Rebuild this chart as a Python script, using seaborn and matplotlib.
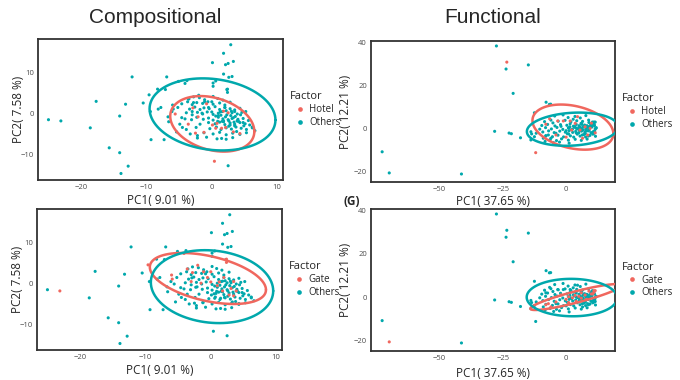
"""
PCA score plots (compositional / functional) with 95% t-ellipses per factor
"""
import matplotlib
matplotlib.use('Agg')
import matplotlib.pyplot as plt
import seaborn as sns
import numpy as np
import pandas as pd

# ================================================================================
# DATA
# ================================================================================

# --- Compositional PCA ---
# samples that are neither hotel nor gate (outlying ones)
comp_rest_pc1 = [-25.0, -17.7, -18.6, -12.2, -13.2, -14.1, -15.7, -14.1, -12.8, -13.9,
                 -8.3, -10.5, -9.4, -8.2, -9.3, -7.3, -7.1, -6.9, -5.1, -3.8,
                 0.1, 1.8, 2.9, 2.1, 3.3, 2.5, 1.8, 3.1, 2.6, 0.6,
                 0.2, 0.2, 2.3, 2.5, 6.6, 6.2, 5.2, -2.2, 0.8, -7.8]
comp_rest_pc2 = [-1.5, 3.0, -3.5, 9.0, 2.3, -0.6, -8.4, -9.6, -12.9, -14.7,
                 6.0, 2.6, 0.5, 1.1, -6.4, -6.4, 5.9, 9.0, 7.9, 8.1,
                 12.5, 14.8, 16.9, 12.0, 12.8, 12.3, 9.7, 9.1, 8.9, 8.0,
                 7.5, 6.7, 5.9, -12.8, -4.2, -3.3, 0.5, -5.4, -6.2, 1.5]
# samples that are neither hotel nor gate (dense cloud)
comp_core_pc1 = [-3.5, -2.8, -1.9, -1.1, 0.2, 0.9, 1.7,
                 -4.6, -3.7, -3.0, -2.3, -1.4, -0.6, 0.2, 1.2, 2.0, 2.8,
                 -5.2, -3.4, -2.6, -1.8, -1.2, -0.4, 0.5, 1.2, 2.0, 2.8, 3.5, 4.3,
                 -6.7, -6.1, -3.9, -3.0, -2.2, -1.4, -0.7, 0.2, 1.0, 1.6, 2.3, 3.1, 3.9, 4.6,
                 -4.1, -4.6, -3.1, -2.3, -1.3, -0.5, 0.2, 1.0, 1.7, 2.5, 3.3, 4.0, 4.8, 5.6,
                 -4.5, -1.8, -0.5, 0.5, 1.2, 2.0, 2.8, 3.5, 4.3, 5.1, 5.8, 1.6, 3.9,
                 -3.9, -2.4, -0.3, 0.7, 1.4, 2.2, 3.0, 3.7, 4.5, 5.3, 6.2, 2.6, 4.9,
                 -1.2, 0.2, 1.2, 2.2, 3.2, 4.3, 5.3, 3.8,
                 -2.2, -0.8, 2.2, 3.2, 1.5,
                 0.6, 1.4, 2.1, 2.9, 3.6, 4.4, 0.9, 1.8, 2.6, 3.4, 4.1, 4.8, 2.2, 3.0,
                 -6.6, -5.4, -4.9, -3.3]
comp_core_pc2 = [3.6, 4.1, 3.9, 3.4, 4.2, 3.7, 3.3,
                 2.4, 2.9, 2.2, 2.7, 2.5, 2.9, 2.3, 2.6, 2.1, 2.8,
                 1.5, 1.1, 1.6, 1.0, 1.4, 1.2, 1.7, 1.0, 1.5, 1.2, 0.9, 1.3,
                 -0.8, 0.5, 0.2, -0.3, 0.3, -0.1, 0.4, -0.2, 0.1, 0.5, -0.3, 0.2, -0.1, 0.3,
                 -1.3, -1.0, -1.5, -0.9, -1.4, -1.1, -1.6, -0.9, -1.3, -1.5, -1.0, -1.4, -1.2, -1.7,
                 -3.4, -2.6, -2.2, -2.5, -2.1, -2.7, -2.3, -2.6, -2.2, -2.5, -2.8, -1.9, -1.8,
                 -3.9, -3.4, -3.7, -3.3, -3.9, -3.5, -3.8, -3.3, -3.6, -3.9, -3.5, -3.1, -3.0,
                 -4.7, -5.0, -4.6, -5.2, -4.8, -5.1, -4.7, -4.4,
                 -6.0, -5.8, -6.3, -5.9, -6.1,
                 -0.6, -0.4, -0.8, -0.5, -0.7, -0.3, -1.9, -2.0, -1.8, -2.1, -1.9, -2.2, 0.7, 0.6,
                 -2.0, -4.5, -2.6, -5.0]
comp_hotel_pc1 = [-5.6, -2.1, -2.9, 0.1, 0.6, 0.8, 1.5, 2.1, 3.3, 4.3, 0.4, -0.8,
                  1.8, -1.2, 2.5, -3.6, -2.5]
comp_hotel_pc2 = [-0.1, -0.8, 1.4, -2.8, -3.6, -2.4, -3.6, -3.4, -4.5, -4.9, -11.7, 2.4,
                  0.6, -4.6, 0.2, -2.6, -4.8]
comp_gate_pc1 = [-23.1, -9.6, -4.1, -6.0, -5.9, -3.6, -2.8, -1.1, 0.0, -1.5, 0.0, 1.3, 2.4, 2.4, 3.1, 3.9,
                 1.0, 2.0, -0.5, 3.5, 2.8, -3.0, 1.8, -2.0, 3.5]
comp_gate_pc2 = [-1.8, 4.6, 7.4, 2.1, 1.1, 3.6, 2.7, 2.9, 2.9, 0.1, 0.4, 0.4, 5.2, 6.0, -1.2, -1.8,
                 -0.5, 1.5, 1.5, 0.5, -2.8, 0.5, -1.8, 4.5, -3.0]

# --- Functional PCA ---
func_rest_pc1 = [-27.5, -23.7, -14.9, -20.9, -28.2, -22.5, -21.6, -18.0, -72.6, -41.3,
                 -7.9, -6.6, -6.1, -12.5, -13.9, -13.6, -13.9, -12.5, -11.8, -9.0, -8.3]
func_rest_pc2 = [38.3, 27.6, 29.5, 16.3, -1.3, -2.1, -2.4, -4.3, -10.8, -21.1,
                 12.2, 11.2, 11.3, 7.3, -1.5, -2.5, -5.3, -3.8, -2.2, -4.5, -6.0]
func_core_pc1 = [-4.5, -1.2, 3.5, 7.8, 0.8, 5.6,
                 -8.5, -6.0, -3.1, -0.4, 1.9, 4.2, 6.5, 8.9, 10.4, -5.2, 2.8,
                 -9.6, -7.3, -4.4, -2.2, 0.3, 1.6, 2.9, 4.0, 5.1, 6.2, 7.3, 8.5, 9.7, 11.2, 11.0,
                 -10.4, -8.1, -5.8, -3.6, -1.3, 0.9, 2.1, 3.3, 4.5, 5.6, 6.8, 7.9, 9.0, 10.2, 11.5, 11.9,
                 1.5, 4.0, 6.2, 8.6,
                 -9.2, -6.9, -4.7, -2.5, -0.3, 1.2, 2.6, 3.8, 5.0, 6.1, 7.4, 8.7, 9.8, 11.0, 10.9,
                 0.5, 4.4, 7.0,
                 -8.0, -5.4, -3.2, -1.0, 1.7, 3.0, 5.5, 7.7, 9.4, 11.6,
                 -6.3, -3.8, -1.8, 0.9, 3.6, 6.0, 8.3,
                 -4.9, -2.6, 1.2,
                 5.3, 6.7, 7.6, 8.2, 9.1, 10.5, 11.8, 11.3, 6.4, 7.9, 9.6, 10.8, 5.9, 8.8, 10.6]
func_core_pc2 = [5.8, 6.3, 5.6, 6.0, 5.1, 4.9,
                 3.2, 3.9, 3.4, 3.8, 3.1, 3.6, 3.3, 3.9, 3.0, 2.6, 4.3,
                 1.4, 1.9, 1.2, 1.8, 1.5, 2.2, 1.1, 1.9, 1.3, 2.1, 1.6, 1.0, 2.0, 1.4, 1.8,
                 -0.3, 0.4, -0.2, 0.5, -0.4, 0.3, -0.5, 0.6, -0.2, 0.5, -0.6, 0.2, -0.3, 0.7, -0.1, 0.4,
                 0.8, 0.1, -0.1, 0.6,
                 -1.6, -1.1, -1.9, -1.2, -1.7, -1.0, -1.8, -1.3, -2.0, -1.2, -1.7, -1.1, -1.9, -1.3, -2.1,
                 -2.4, -2.6, -2.8,
                 -3.3, -3.8, -3.1, -3.9, -3.4, -4.0, -3.5, -3.9, -3.2, -3.6,
                 -5.2, -5.6, -4.8, -5.4, -5.0, -5.5, -4.9,
                 -6.6, -6.3, -6.8,
                 -0.9, 0.9, -2.3, 1.3, -0.8, -2.6, 0.1, -1.1, -3.0, -0.2, 1.1, -2.4, 2.4, -3.5, -1.6]
func_hotel_pc1 = [-23.4, -12.0, -3.3, -1.1, 1.6, 3.6, 7.5, 5.5, 2.2, 9.5,
                  11.5, 8.5, -6.5, -8.0, 4.5, 0.0, 6.5, -4.0, 10.0]
func_hotel_pc2 = [30.8, -11.2, 3.5, 3.5, 3.5, 2.4, 0.8, -0.7, -0.7, 0.1,
                  -2.0, -3.0, 4.5, 2.0, 5.5, -4.0, -4.5, -3.0, 2.5]
func_gate_pc1 = [-69.8, -8.0, -4.0, 0.0, 2.5, 5.0, 7.5, 10.0, 11.0, 3.5, 6.0, 1.0,
                 -2.0, 4.0, 8.0, 11.0, 10.5, -6.0, 9.0, 1.0, 6.0, 11.5, -7.0]
func_gate_pc2 = [-20.6, -3.5, -2.2, -1.0, -0.3, 0.4, 1.0, 1.5, 2.2, 0.8, -0.5, 0.2,
                 1.0, -2.0, -1.0, 3.0, 1.5, -4.5, 2.8, -2.5, 2.0, 3.0, -3.0]

COLORS = {'Hotel': '#F0675E', 'Gate': '#F0675E', 'Others': '#00A8AC'}


# ================================================================================
# HELPERS
# ================================================================================

def t_ellipse(x, y, level=0.95, nu=5, segments=101):
    """Ellipse de confiance 'type t' (cov.trob robuste, comme stat_ellipse)"""
    X = np.column_stack([x, y]).astype(float)
    n, p = X.shape
    loc = X.mean(axis=0)
    w = np.ones(n)
    for _ in range(25):
        w0 = w
        D = X - loc
        cov = (w[:, None] * D).T @ D / w.sum()
        q = np.einsum('ij,jk,ik->i', D, np.linalg.inv(cov), D)
        w = (nu + p) / (nu + q)
        loc = (w[:, None] * X).sum(axis=0) / w.sum()
        if np.all(np.abs(w - w0) < 0.01):
            break
    D = X - loc
    cov = (w[:, None] * D).T @ D / n
    dfd = n - 1
    fq = dfd / 2 * ((1 - level) ** (-2 / dfd) - 1)   # qf(level, 2, dfd)
    radius = np.sqrt(2 * fq)
    t = np.linspace(0, 2 * np.pi, segments)
    circle = np.column_stack([np.cos(t), np.sin(t)])
    L = np.linalg.cholesky(cov)
    pts = loc + radius * circle @ L.T
    return pts[:, 0], pts[:, 1]


def pca_panel(ax, grp_pc1, grp_pc2, oth_pc1, oth_pc2, label,
              xlim, ylim, xticks, yticks, xlab, ylab, xlab_y, ylab_x):
    df = pd.DataFrame({
        'PC1': list(oth_pc1) + list(grp_pc1),
        'PC2': list(oth_pc2) + list(grp_pc2),
        'Factor': ['Others'] * len(oth_pc1) + [label] * len(grp_pc1),
    })
    sns.scatterplot(data=df, x='PC1', y='PC2', hue='Factor', hue_order=[label, 'Others'],
                    palette=COLORS, s=5, linewidth=0, ax=ax, zorder=2)

    for name in [label, 'Others']:
        sub = df[df['Factor'] == name]
        ex, ey = t_ellipse(sub['PC1'], sub['PC2'])
        ax.plot(ex, ey, color=COLORS[name], linewidth=1.8, zorder=3)

    ax.set_xlim(*xlim)
    ax.set_ylim(*ylim)
    ax.set_xticks(xticks)
    ax.set_yticks(yticks)
    ax.set_xlabel(xlab, fontsize=8.5)
    ax.set_ylabel(ylab, fontsize=8.5)
    ax.xaxis.set_label_coords(0.5, xlab_y)
    ax.yaxis.set_label_coords(ylab_x, 0.5)
    ax.tick_params(labelsize=5.5, labelcolor='#4D4D4D', length=1.5, width=0.6,
                   color='#4D4D4D', pad=1.5)
    for sp in ax.spines.values():
        sp.set_color('#333333')
        sp.set_linewidth(1.3)
    ax.grid(False)

    sns.move_legend(ax, 'center left', bbox_to_anchor=(1.0, 0.5), frameon=False,
                    title='Factor', fontsize=7, title_fontsize=8,
                    handletextpad=0.0, labelspacing=0.2, markerscale=1.5,
                    borderaxespad=0.3, alignment='left')


# ================================================================================
# FIGURE
# ================================================================================

sns.set_style('white')
plt.rcParams['font.family'] = ['Open Sans', 'DejaVu Sans']

fig = plt.figure(figsize=(6.8, 3.8), dpi=100)
ax_tl = fig.add_axes([0.0559, 0.5263, 0.3603, 0.371])
ax_bl = fig.add_axes([0.0544, 0.0789, 0.3603, 0.371])
ax_tr = fig.add_axes([0.5456, 0.5211, 0.3588, 0.371])
ax_br = fig.add_axes([0.5456, 0.0763, 0.3588, 0.3737])

comp_lim = dict(xlim=(-26.6, 10.9), ylim=(-16.3, 18.3),
                xticks=[-20, -10, 0, 10], yticks=[-10, 0, 10],
                xlab='PC1( 9.01 %)', ylab='PC2( 7.58 %)')
func_lim = dict(xlim=(-77, 19.3), ylim=(-24.8, 40.6),
                xticks=[-50, -25, 0], yticks=[-20, 0, 20, 40],
                xlab='PC1( 37.65 %)', ylab='PC2( 12.21 %)')

pca_panel(ax_tl, comp_hotel_pc1, comp_hotel_pc2,
          comp_rest_pc1 + comp_core_pc1 + comp_gate_pc1,
          comp_rest_pc2 + comp_core_pc2 + comp_gate_pc2, 'Hotel',
          xlab_y=-0.10, ylab_x=-0.055, **comp_lim)
pca_panel(ax_bl, comp_gate_pc1, comp_gate_pc2,
          comp_rest_pc1 + comp_core_pc1 + comp_hotel_pc1,
          comp_rest_pc2 + comp_core_pc2 + comp_hotel_pc2, 'Gate',
          xlab_y=-0.10, ylab_x=-0.055, **comp_lim)
pca_panel(ax_tr, func_hotel_pc1, func_hotel_pc2,
          func_rest_pc1 + func_core_pc1 + func_gate_pc1,
          func_rest_pc2 + func_core_pc2 + func_gate_pc2, 'Hotel',
          xlab_y=-0.095, ylab_x=-0.078, **func_lim)
pca_panel(ax_br, func_gate_pc1, func_gate_pc2,
          func_rest_pc1 + func_core_pc1 + func_hotel_pc1,
          func_rest_pc2 + func_core_pc2 + func_hotel_pc2, 'Gate',
          xlab_y=-0.113, ylab_x=-0.078, **func_lim)

fig.text(0.228, 0.955, 'Compositional', ha='center', va='center', fontsize=15,
         family='Liberation Sans')
fig.text(0.725, 0.955, 'Functional', ha='center', va='center', fontsize=15,
         family='Liberation Sans')
fig.text(0.518, 0.471, '(G)', ha='center', va='center', fontsize=8.5, fontweight='bold')

plt.savefig('out.png', dpi=100)
